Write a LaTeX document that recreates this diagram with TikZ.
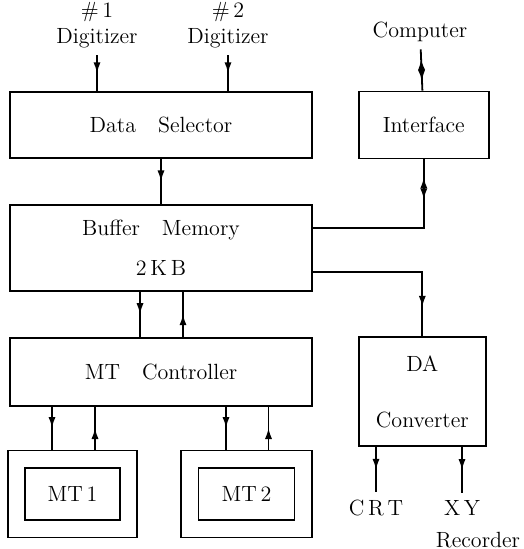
\documentclass[tikz,border=0pt]{standalone}
\usepackage{tikz}
\usetikzlibrary{arrows.meta, positioning, decorations.markings}

\tikzset{
    block/.style={rectangle, draw, align=center, inner sep=0pt},
    midarrow/.style={postaction={decorate, decoration={markings,
        mark=at position #1 with {\arrow{>}}}}},
    midarrow/.default=0.5,
    twoway/.style={postaction={decorate, decoration={markings,
        mark=at position #1 with {\draw[<->] (-5.5pt,0pt) -- (5.5pt,0pt);}}}},
    twoway/.default=0.5
}

\begin{document}
\begin{tikzpicture}[x=0.5pt, y=-0.5pt, line width=0.9pt, >={Latex[length=5.5pt, width=3.6pt]},
    font=\fontsize{11}{13}\selectfont]
    \useasboundingbox (0,0) rectangle (523,549);

    % left column
    \node[block, minimum width=151pt, minimum height=33pt] (sel) at (161,125) {Data\quad Selector};
    \node[block, minimum width=151pt, minimum height=43pt, below=22.5pt of sel] (buf) {
        Buffer\quad Memory\\[7pt]
        2\,K\,B
    };
    \node[block, minimum width=151pt, minimum height=34pt, below=22.5pt of buf] (ctl) {MT\quad Controller};

    % tape units
    \node[block, minimum width=64.5pt, minimum height=43.5pt, below=21.5pt of ctl.south west,
        anchor=north west, xshift=-1pt] (mt1) {};
    \node[block, minimum width=47.5pt, minimum height=26pt] (mt1in) at (mt1) {MT\,1};
    \node[block, minimum width=65.5pt, minimum height=43.5pt, below=21.5pt of ctl.south east,
        anchor=north east] (mt2) {};
    \node[block, minimum width=48pt, minimum height=26pt] (mt2in) at (mt2) {MT\,2};

    % right column
    \node[block, minimum width=65pt, minimum height=33.5pt, right=22.5pt of sel] (intf) {Interface};
    \node[block, minimum width=63.5pt, minimum height=54.5pt, below=88.5pt of intf.south west,
        anchor=north west] (da) {
        DA\\[15pt]
        Converter
    };

    % labels
    \node[align=center] (dig1) at (97,25) {\#\,1\\Digitizer};
    \node[align=center] (dig2) at (228,25) {\#\,2\\Digitizer};
    \node (comp) at (420,32) {Computer};
    \node (crt) at (376,508) {C\,R\,T};
    \node (xy) at (462,508) {X\,Y};
    \node (rec) at (478,540) {Recorder};

    \draw[midarrow] (dig1.south) -- (dig1.south |- sel.north);
    \draw[midarrow] (dig2.south) -- (dig2.south |- sel.north);
    \draw[midarrow] (sel) -- (buf);
    \draw[twoway] (comp) -- (intf);
    \draw[twoway=14.5pt] (intf.south) |- ([yshift=10pt]buf.east);
    \draw[midarrow=0.83] ([yshift=-12pt]buf.east) -| (da.north);

    \draw[midarrow] ([xshift=-10.5pt]buf.south) -- ([xshift=-10.5pt]ctl.north);
    \draw[midarrow] ([xshift=11pt]ctl.north) -- ([xshift=11pt]buf.south);

    \draw[midarrow] ([xshift=-10.25pt]mt1.north |- ctl.south) -- ([xshift=-10.25pt]mt1.north);
    \draw[midarrow] ([xshift=11.25pt]mt1.north) -- ([xshift=11.25pt]mt1.north |- ctl.south);
    \draw[midarrow] ([xshift=-10.25pt]mt2.north |- ctl.south) -- ([xshift=-10.25pt]mt2.north);
    \draw[midarrow] ([xshift=11pt]mt2.north) -- ([xshift=11pt]mt2.north |- ctl.south);

    \draw[midarrow] (da.south -| crt) -- (crt.north);
    \draw[midarrow] (da.south -| xy) -- (xy.north);
\end{tikzpicture}
\end{document}
